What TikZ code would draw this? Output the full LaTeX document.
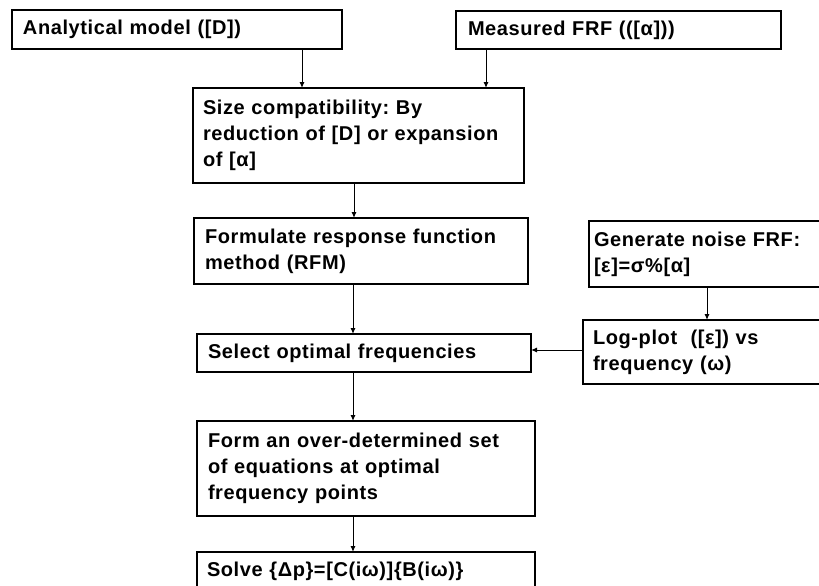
\documentclass[tikz,border=0pt]{standalone}
\usepackage{fontspec}
\setmainfont{Liberation Sans}[LetterSpace=3]
\usetikzlibrary{arrows.meta}
\frenchspacing
\begin{document}
\begin{tikzpicture}[x=1pt,y=-1pt,
  box/.style={draw=black, line width=1.2pt, anchor=north west, align=left,
    inner ysep=0pt, outer sep=0pt, font=\fontsize{20pt}{26pt}\selectfont\bfseries},
  arr/.style={line width=1pt, -{Latex[length=6pt,width=5pt]}}]
\clip (0,0) rectangle (819,586);
\node[box, minimum width=330pt, minimum height=39pt, inner xsep=11pt, text width=308pt] (b1) at (12,10) {Analytical model ([D])};
\node[box, minimum width=325pt, minimum height=38pt, inner xsep=12pt, text width=301pt] (b2) at (456,11) {Measured FRF (([α]))};
\node[box, minimum width=331pt, minimum height=95pt, inner xsep=10pt, text width=311pt] (b3) at (193,88) {Size compatibility: By\\reduction of [D] or expansion\\of [α]};
\node[box, minimum width=334pt, minimum height=66pt, inner xsep=11pt, text width=312pt] (b4) at (194,218) {Formulate response function\\method (RFM)};
\node[box, minimum width=334pt, minimum height=38pt, inner xsep=11pt, text width=312pt] (b5) at (197,334) {Select optimal frequencies};
\node[box, minimum width=240pt, minimum height=66pt, inner xsep=5pt, text width=230pt] (b6) at (589,221) {Generate noise FRF:\\{}[ε]=σ\%[α]};
\node[box, minimum width=246pt, minimum height=64pt, inner xsep=10pt, text width=226pt] (b7) at (583,320) {Log-plot~ ([ε]) vs\\frequency (ω)};
\node[box, minimum width=338pt, minimum height=95pt, inner xsep=11pt, text width=316pt] (b8) at (197,421) {Form an over-determined set\\of equations at optimal\\frequency points};
\node[box, minimum width=338pt, minimum height=38pt, inner xsep=10pt, text width=318pt] (b9) at (197,552) {Solve \{Δp\}=[C(iω)]\{B(iω)\}};
\draw[arr] (302,0 |- b1.south) -- (302,0 |- b3.north);
\draw[arr] (486,0 |- b2.south) -- (486,0 |- b3.north);
\draw[arr] (354,0 |- b3.south) -- (354,0 |- b4.north);
\draw[arr] (353,0 |- b4.south) -- (353,0 |- b5.north);
\draw[arr] (353,0 |- b5.south) -- (353,0 |- b8.north);
\draw[arr] (353,0 |- b8.south) -- (353,0 |- b9.north);
\draw[arr] (707,0 |- b6.south) -- (707,0 |- b7.north);
\draw[arr] (b7.west |- 0,350) -- (b5.east |- 0,350);
\end{tikzpicture}
\end{document}
